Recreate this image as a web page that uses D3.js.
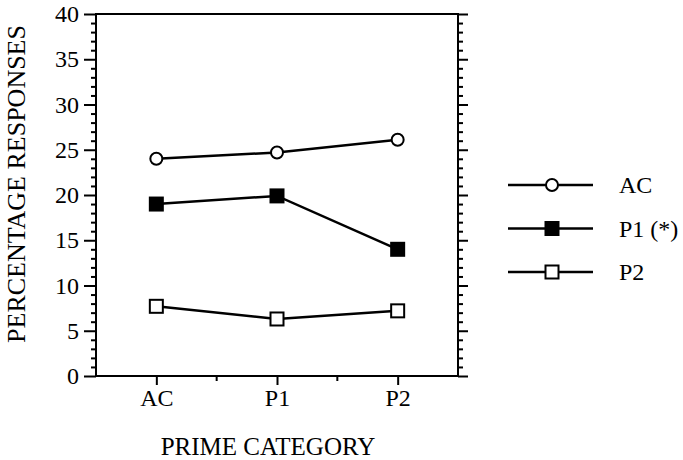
<!DOCTYPE html>
<html>
<head>
<meta charset="utf-8">
<script src="https://cdn.jsdelivr.net/npm/d3@7"></script>
<style>
  body { margin: 0; background: #fff; }
  text { font-family: "Liberation Serif", "Times New Roman", serif; fill: #000; }
</style>
</head>
<body>
<div id="chart-area"></div>
<script>
// Data
var categories = ["AC", "P1", "P2"];
var seriesNames = ["AC", "P1 (*)", "P2"];
var acValues = [24.0, 24.7, 26.1];
var p1Values = [19.0, 19.9, 14.0];
var p2Values = [7.7, 6.3, 7.2];
var yTicks = [0, 5, 10, 15, 20, 25, 30, 35, 40];

var series = [
    { name: seriesNames[0], values: acValues, shape: "circle", fill: "#fff" },
    { name: seriesNames[1], values: p1Values, shape: "square", fill: "#000" },
    { name: seriesNames[2], values: p2Values, shape: "square", fill: "#fff" }
];

var margin = { left: 96, right: 225, top: 14, bottom: 84 };
var width = 683 - margin.left - margin.right,
    height = 460 - margin.top - margin.bottom;

var svg = d3.select("#chart-area")
    .append("svg")
        .attr("width", 683)
        .attr("height", 460);

var g = svg.append("g")
    .attr("transform", "translate(" + margin.left + "," + margin.top + ")");

// Scales
var x = d3.scalePoint()
    .domain(categories)
    .range([0, width])
    .padding(0.5);

var y = d3.scaleLinear()
    .domain([0, 40])
    .range([height, 0]);

// Minor ticks on y
var minorY = d3.range(0, 41, 1).filter(function(d){ return d % 5 !== 0; });

// Left axis minor
g.append("g")
    .call(d3.axisLeft(y).tickValues(minorY).tickSize(5).tickFormat(""))
    .call(function(s){ s.select(".domain").remove(); });
// Left axis major
g.append("g")
    .attr("class", "y-axis")
    .call(d3.axisLeft(y).tickValues(yTicks).tickSize(12).tickPadding(5))
    .call(function(s){ s.select(".domain").remove(); })
    .selectAll("text")
        .attr("font-size", "24px")
        .attr("font-family", "Liberation Serif");

// Right axis (mirrored)
g.append("g")
    .attr("transform", "translate(" + width + ",0)")
    .call(d3.axisRight(y).tickValues(minorY).tickSize(5).tickFormat(""))
    .call(function(s){ s.select(".domain").remove(); });
g.append("g")
    .attr("transform", "translate(" + width + ",0)")
    .call(d3.axisRight(y).tickValues(yTicks).tickSize(10).tickFormat(""))
    .call(function(s){ s.select(".domain").remove(); });

// Bottom axis: category ticks plus minor ticks between
var mids = [];
for (var i = 0; i < categories.length - 1; i++) {
    mids.push((x(categories[i]) + x(categories[i + 1])) / 2);
}
g.selectAll(".minor-x")
    .data(mids)
    .enter().append("line")
        .attr("x1", function(d){ return d; })
        .attr("x2", function(d){ return d; })
        .attr("y1", height)
        .attr("y2", height + 5)
        .attr("stroke", "#000")
        .attr("stroke-width", 2);

g.append("g")
    .attr("transform", "translate(0," + height + ")")
    .call(d3.axisBottom(x).tickSize(9).tickPadding(4))
    .call(function(s){ s.select(".domain").remove(); })
    .selectAll("text")
        .attr("font-size", "24px")
        .attr("font-family", "Liberation Serif");

g.selectAll(".tick line").attr("stroke-width", 2);

// Frame
g.append("rect")
    .attr("x", 0)
    .attr("y", 0)
    .attr("width", width)
    .attr("height", height)
    .attr("fill", "none")
    .attr("stroke", "#000")
    .attr("stroke-width", 2);

// Axis labels
g.append("text")
    .attr("transform", "rotate(-90)")
    .attr("x", -170)
    .attr("y", -71)
    .attr("text-anchor", "middle")
    .attr("font-size", "26px")
    .text("PERCENTAGE RESPONSES");

g.append("text")
    .attr("x", width / 2 - 9)
    .attr("y", height + 79)
    .attr("text-anchor", "middle")
    .attr("font-size", "25px")
    .text("PRIME CATEGORY");

// Lines
var line = d3.line()
    .x(function(d, i){ return x(categories[i]); })
    .y(function(d){ return y(d); });

function drawMarker(sel, shape, fill) {
    if (shape === "circle") {
        sel.append("circle")
            .attr("r", 6)
            .attr("fill", fill)
            .attr("stroke", "#000")
            .attr("stroke-width", 2);
    } else {
        sel.append("rect")
            .attr("x", -6.5)
            .attr("y", -6.5)
            .attr("width", 13)
            .attr("height", 13)
            .attr("fill", fill)
            .attr("stroke", "#000")
            .attr("stroke-width", 2);
    }
}

series.forEach(function(s) {
    g.append("path")
        .datum(s.values)
        .attr("d", line)
        .attr("fill", "none")
        .attr("stroke", "#000")
        .attr("stroke-width", 2.5);

    g.selectAll(null)
        .data(s.values)
        .enter().append("g")
            .attr("transform", function(d, i){ return "translate(" + x(categories[i]) + "," + y(d) + ")"; })
            .each(function() { drawMarker(d3.select(this), s.shape, s.fill); });
});

// Legend
var legend = svg.append("g")
    .attr("transform", "translate(508,185)");

series.forEach(function(s, i) {
    var row = legend.append("g")
        .attr("transform", "translate(0," + (i * 43.5) + ")");
    row.append("line")
        .attr("x1", 0)
        .attr("x2", 85)
        .attr("y1", 0)
        .attr("y2", 0)
        .attr("stroke", "#000")
        .attr("stroke-width", 2.5);
    drawMarker(row.append("g").attr("transform", "translate(44,0)"), s.shape, s.fill);
    row.append("text")
        .attr("x", 111)
        .attr("y", 8)
        .attr("font-size", "24px")
        .text(s.name);
});
</script>
</body>
</html>
